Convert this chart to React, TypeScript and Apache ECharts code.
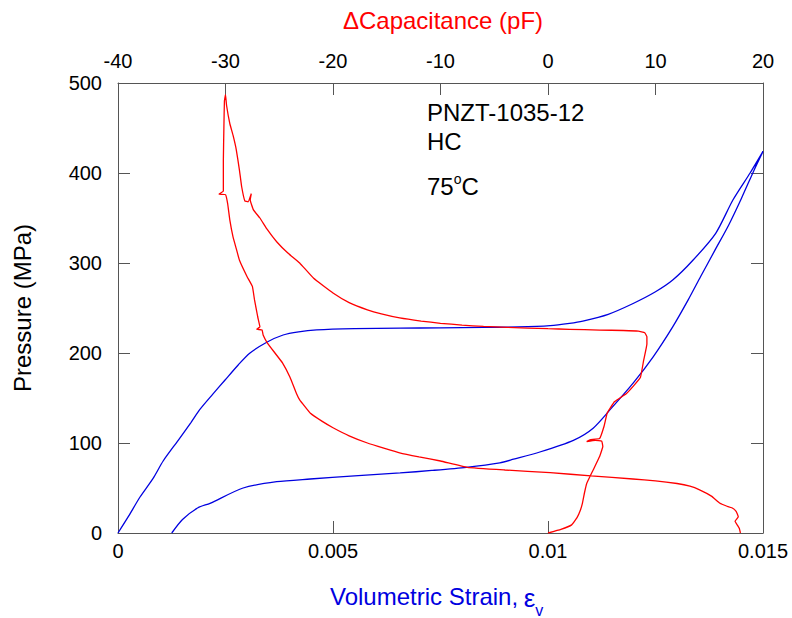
import React, { useEffect, useRef } from 'react';
import * as echarts from 'echarts';

// Blue: volumetric strain vs pressure (bottom axis)
const loadStrain = [0, 0.00025, 0.000512, 0.00082, 0.00105, 0.0014, 0.0017, 0.0019, 0.0022, 0.00249, 0.0028, 0.00307, 0.00346, 0.00384, 0.0042, 0.00462, 0.0055, 0.00656, 0.0075, 0.0085, 0.0093, 0.01005, 0.0105, 0.01081, 0.0114, 0.01198, 0.0125, 0.0129, 0.01337, 0.0139, 0.0143, 0.0147, 0.015];
const loadPressure = [0, 19, 40, 61, 80, 103, 123, 137, 154, 170, 187, 200, 212, 220, 223.5, 225.6, 227, 227.6, 228, 228.5, 229, 230.5, 233, 235.5, 243, 255, 268, 281, 303, 333, 370, 400, 424];
const unloadStrain = [0.015, 0.0148, 0.0145, 0.0142, 0.01388, 0.01355, 0.01326, 0.0129, 0.01245, 0.01198, 0.01148, 0.01105, 0.01059, 0.00981, 0.0092, 0.00888, 0.0081, 0.0073, 0.00656, 0.0055, 0.00447, 0.00369, 0.00291, 0.00214, 0.00186, 0.0015, 0.00125];
const unloadPressure = [424, 404, 372, 342, 314, 285, 259, 229, 196, 166.5, 139, 116.5, 103, 90, 82, 78, 73, 69.5, 66.7, 63.5, 60, 57, 50, 33, 28, 15, 0];

// Red: delta capacitance vs pressure (top axis)
const capValues = [0, 1.2, 2.2, 2.7, 3.0, 3.2, 3.4, 3.6, 4.2, 4.8, 5.0, 5.1, 5.0, 4.4, 3.6, 3.9, 4.8, 5.2, 5.5, 5.8, 6.2, 7.3, 8.0, 8.6, 8.9, 9.2, 9.2, 9.0, 8.4, 7, 4.8, 2, 0, -3.8, -6, -8, -10, -11.8, -13.8, -15.5, -16.8, -18.5, -20, -21.8, -23.1, -24.2, -25.2, -26.1, -26.8, -27.4, -27.7, -27.6, -27.9, -28.2, -28.5, -28.7, -29.0, -29.3, -29.6, -29.9, -30, -30.1, -30.15, -30.2, -30.2, -30.6, -30.0, -29.8, -29.6, -29.3, -29.0, -28.7, -28.0, -27.5, -27.3, -27.0, -26.8, -27.1, -26.6, -26.5, -26.1, -25.4, -24.7, -24, -23.4, -23.1, -22.1, -21, -20, -18.5, -16.8, -15.2, -13.8, -12, -10, -7.5, -4, 0.2, 4, 7.9, 10, 12, 13.2, 14.1, 15.2, 16, 16.6, 17.1, 17.5, 17.7, 17.4, 17.6, 17.8, 17.9];
const capPressure = [0, 4, 9, 17, 25, 33, 45, 55, 70, 85, 92, 96, 102, 103, 101.5, 103.5, 105, 118, 133, 139, 146, 155, 164, 173, 192, 210, 218, 222.5, 224.3, 225, 225.5, 226.3, 227, 228.5, 229.5, 231, 233, 235.5, 239, 243.5, 248, 256, 266.7, 283, 300, 311, 323, 337, 350, 359, 370, 377, 368, 369, 385, 403, 426, 442, 455, 475, 487, 480, 450, 414, 380, 376.5, 376, 366, 348, 329, 316, 303, 285, 274, 259, 240, 229, 226.5, 225.5, 220, 211, 200, 189, 173, 155, 148, 133, 124, 117, 108, 100, 94, 89, 84.5, 80, 73, 70, 67, 63.5, 60, 58, 55, 52, 48, 41, 33, 30, 28, 24, 18, 13, 9, 5, 0];

const bottomTicks = { min: 0, max: 0.015, interval: 0.005 };
const topTicks = { min: -40, max: 20, interval: 10 };
const pressureTicks = { min: 0, max: 500, interval: 100 };

const annotationLines = ['PNZT-1035-12', 'HC'];
const tempValue = '75';

export default function App() {
  const ref = useRef<HTMLDivElement>(null);
  useEffect(() => {
    document.body.style.margin = '0';
    const chart = echarts.init(ref.current!, null, { renderer: 'svg' });
    const FONT = "'Liberation Sans', Arial, Helvetica, sans-serif";
    const ctx = document.createElement('canvas').getContext('2d')!;
    const measure = (t: string, size: number) => {
      ctx.font = `${size}px ${FONT}`;
      return ctx.measureText(t).width;
    };
    const blue = '#0000e0';
    const red = '#ff0000';
    const axisColor = '#555';

    const blueData = [
      ...loadStrain.map((s, i) => [s, loadPressure[i]]),
      ...unloadStrain.map((s, i) => [s, unloadPressure[i]]),
    ];
    const redData = capValues.map((c, i) => [c, capPressure[i]]);

    const tickLabel = { color: '#000', fontSize: 20, fontFamily: FONT };
    const lineStyle = { color: axisColor, width: 1 };

    const titleX = 330;
    const titleText = 'Volumetric Strain,';
    const epsX = titleX + measure(titleText + ' ', 24) - 1;
    const vX = epsX + measure('ε', 26);
    const tempX = 427;
    const oX = tempX + measure(tempValue, 24);
    const cX = oX + measure('o', 14);

    chart.setOption({
      animation: false,
      grid: { left: 118, top: 83, width: 645, height: 450, containLabel: false },
      xAxis: [
        {
          type: 'value', position: 'bottom', ...bottomTicks,
          axisLine: { show: true, onZero: false, lineStyle },
          axisTick: { show: true, inside: true, length: 12, lineStyle },
          axisLabel: { ...tickLabel, margin: 8 },
          splitLine: { show: false },
        },
        {
          type: 'value', position: 'top', ...topTicks,
          axisLine: { show: true, onZero: false, lineStyle },
          axisTick: { show: true, inside: true, length: 12, lineStyle },
          axisLabel: { ...tickLabel, margin: 12 },
          splitLine: { show: false },
        },
      ],
      yAxis: [
        {
          type: 'value', position: 'left', ...pressureTicks,
          axisLine: { show: true, onZero: false, lineStyle },
          axisTick: { show: true, inside: true, length: 12, lineStyle },
          axisLabel: { ...tickLabel, margin: 16 },
          splitLine: { show: false },
        },
        {
          type: 'value', position: 'right', ...pressureTicks,
          axisLine: { show: true, onZero: false, lineStyle },
          axisTick: { show: true, inside: true, length: 12, lineStyle },
          axisLabel: { show: false },
          splitLine: { show: false },
        },
      ],
      series: [
        {
          type: 'line', xAxisIndex: 0, yAxisIndex: 0, data: blueData,
          showSymbol: false, symbol: 'none', smooth: 0.25,
          lineStyle: { color: blue, width: 1.3 }, silent: true,
        },
        {
          type: 'line', xAxisIndex: 1, yAxisIndex: 0, data: redData,
          showSymbol: false, symbol: 'none', smooth: 0.1,
          lineStyle: { color: red, width: 1.3 }, silent: true,
        },
      ],
      graphic: [
        { type: 'text', x: 443, y: 20, style: { text: 'ΔCapacitance (pF)', fill: red, fontSize: 24, fontFamily: FONT, align: 'center', verticalAlign: 'middle' } },
        { type: 'text', x: 22.5, y: 308, rotation: Math.PI / 2, style: { text: 'Pressure (MPa)', fill: '#000', fontSize: 24, fontFamily: FONT, align: 'center', verticalAlign: 'middle' } },
        { type: 'text', x: titleX, y: 596, style: { text: titleText, fill: blue, fontSize: 24, fontFamily: FONT, align: 'left', verticalAlign: 'middle' } },
        { type: 'text', x: epsX, y: 598, style: { text: 'ε', fill: blue, fontSize: 26, fontFamily: FONT, align: 'left', verticalAlign: 'middle' } },
        { type: 'text', x: vX, y: 610, style: { text: 'v', fill: blue, fontSize: 16, fontFamily: FONT, align: 'left', verticalAlign: 'middle' } },
        { type: 'text', x: 427, y: 112, style: { text: annotationLines[0], fill: '#000', fontSize: 24, fontFamily: FONT, align: 'left', verticalAlign: 'middle' } },
        { type: 'text', x: 427, y: 141.5, style: { text: annotationLines[1], fill: '#000', fontSize: 24, fontFamily: FONT, align: 'left', verticalAlign: 'middle' } },
        { type: 'text', x: tempX, y: 186, style: { text: tempValue, fill: '#000', fontSize: 24, fontFamily: FONT, align: 'left', verticalAlign: 'middle' } },
        { type: 'text', x: oX, y: 178.5, style: { text: 'o', fill: '#000', fontSize: 14, fontFamily: FONT, align: 'left', verticalAlign: 'middle' } },
        { type: 'text', x: cX, y: 186, style: { text: 'C', fill: '#000', fontSize: 24, fontFamily: FONT, align: 'left', verticalAlign: 'middle' } },
      ],
    });
    return () => chart.dispose();
  }, []);
  return <div ref={ref} style={{ width: 792, height: 618 }} />;
}
